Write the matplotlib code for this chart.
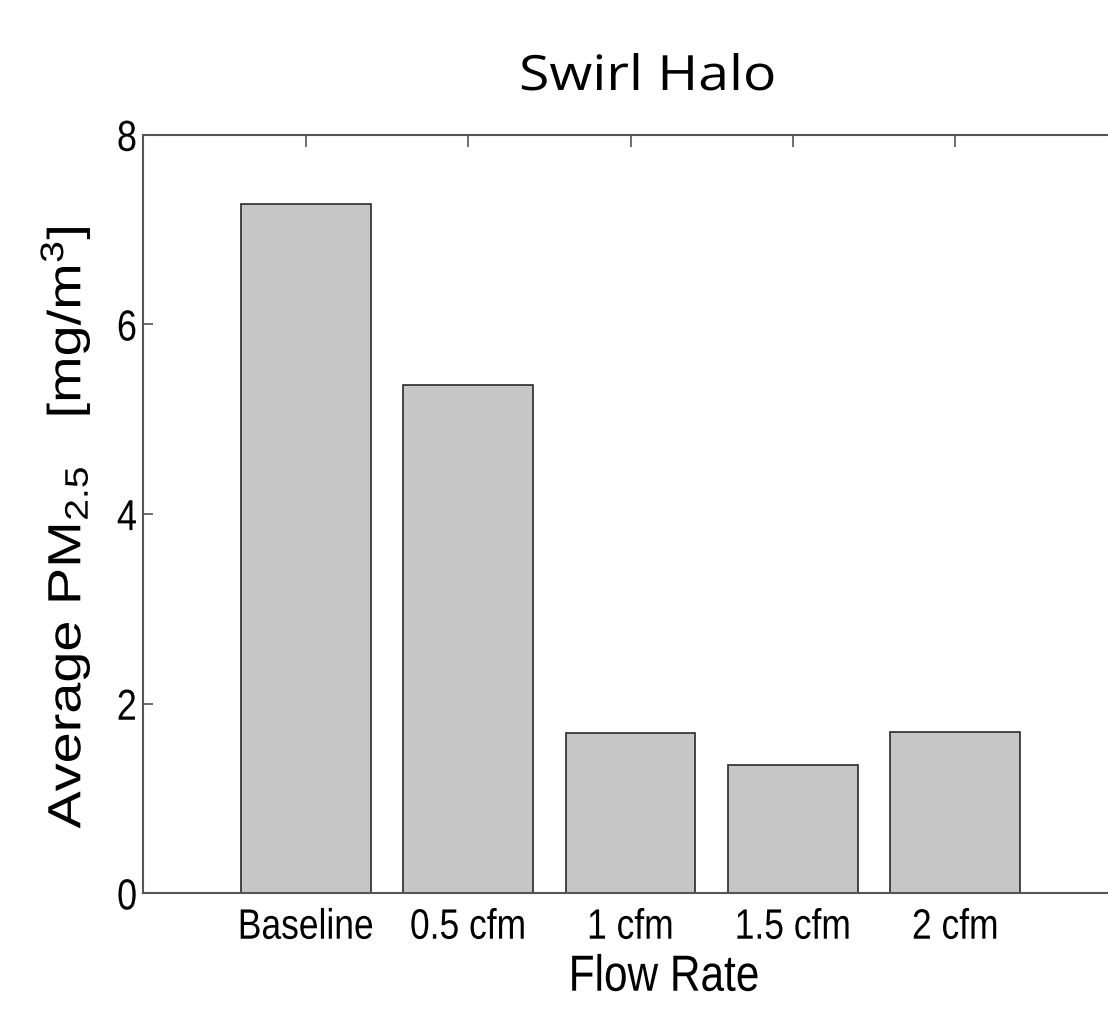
import matplotlib
matplotlib.use("Agg")
import matplotlib.pyplot as plt
from matplotlib.patheffects import AbstractPathEffect
from matplotlib.transforms import Affine2D

categories = ["Baseline", "0.5 cfm", "1 cfm", "1.5 cfm", "2 cfm"]
pm25 = [7.27, 5.36, 1.69, 1.35, 1.70]
yticks = [0, 2, 4, 6, 8]


class Stretch(AbstractPathEffect):
    """Scale glyph outlines in display space about a point given in glyph units."""

    def __init__(self, sx=1.0, sy=1.0, pivot=(0.0, 0.0)):
        super().__init__()
        self.sx, self.sy, self.pivot = sx, sy, pivot

    def draw_path(self, renderer, gc, tpath, affine, rgbFace=None):
        px, py = affine.transform(self.pivot)
        extra = Affine2D().translate(-px, -py).scale(self.sx, self.sy).translate(px, py)
        renderer.draw_path(gc, tpath, affine + extra, rgbFace)


SY = 1.2

plt.rcParams["font.family"] = ["Liberation Sans", "DejaVu Sans"]
plt.rcParams["mathtext.default"] = "regular"

W, H = 1108, 1016
fig = plt.figure(figsize=(W / 100, H / 100), dpi=100)
ax = fig.add_axes([0.1293, 0.1208, 0.8795, 0.7466])

positions = list(range(1, len(categories) + 1))
ax.bar(positions, pm25, width=0.8, color="#c6c6c6", edgecolor="#2a2a2a",
       linewidth=1.2, zorder=2)

ax.set_xlim(0, 6)
ax.set_ylim(0, 8)
ax.set_yticks(yticks)
ax.set_xticks(positions)
ax.set_xticklabels(categories, fontsize=25.5)
ax.tick_params(axis="y", labelsize=26, direction="in", length=7, width=1.2,
               color="#555555", pad=4.5)
ax.tick_params(axis="x", direction="in", length=8.6, width=1.2, color="#555555",
               pad=14, top=True, bottom=False)

for side in ("left", "bottom", "top", "right"):
    ax.spines[side].set_color("#555555")
    ax.spines[side].set_linewidth(1.5)
    ax.spines[side].set_zorder(3)

for lab in ax.get_xticklabels():
    lab.set_path_effects([Stretch(sy=SY)])
for lab in ax.get_yticklabels():
    lab.set_path_effects([Stretch(sy=SY, pivot=(0.0, 36.0))])

ax.set_xlabel("Flow Rate", fontsize=30.5, va="top")
ax.xaxis.set_label_coords((664 - 143.3) / 974.4, (893 - 959.5) / 759)
ax.xaxis.label.set_path_effects([Stretch(sy=SY)])

ax.set_ylabel(r"Average PM$_{2.5}$   [mg/m$^3$]", fontsize=33.5)
ax.yaxis.set_label_coords((93 - 143.3) / 974.4, (893 - 577) / 759)
ax.yaxis.label.set_path_effects([Stretch(sy=SY)])

title = fig.text(519 / W, 1 - 90 / H, "Swirl Halo", ha="left", va="baseline",
                 fontsize=35, family=["Open Sans", "DejaVu Sans"])
title.set_path_effects([Stretch(sx=1.14)])

fig.savefig("out.png", dpi=100, facecolor="white")
